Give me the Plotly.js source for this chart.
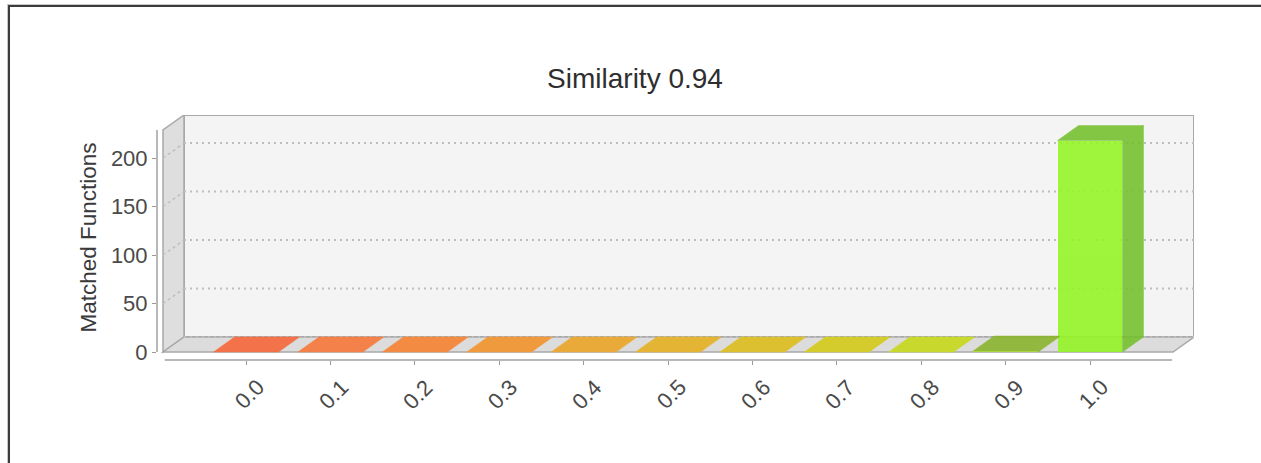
<!DOCTYPE html>
<html><head><meta charset="utf-8">
<script src="https://cdn.plot.ly/plotly-3.0.1.min.js"></script>
<style>
html,body{margin:0;padding:0;background:#fff;}
#wrap{position:relative;width:1261px;height:463px;overflow:hidden;}
#chart{position:absolute;left:0;top:0;width:1261px;height:463px;}
#frame{position:absolute;left:8px;top:5px;width:1300px;height:500px;border-top:2px solid #3c3c3c;border-left:2px solid #3c3c3c;box-shadow:-1px -1px 0 #c8c8c8;pointer-events:none;}
</style></head><body>
<div id="wrap"><div id="chart"></div><div id="frame"></div></div>
<script>
// ---- data ----
const categories = ['0.0','0.1','0.2','0.3','0.4','0.5','0.6','0.7','0.8','0.9','1.0'];
const matchedFunctions = [0,0,0,0,0,0,0,0,0,1,218];
const yTickValues = [0,50,100,150,200];
const chartTitle = 'Similarity 0.94';
const yTitle = 'Matched Functions';

// ---- styles ----
const frontColors = ['#f37249','#f4804a','#f38c42','#f09a3e','#eaaa3a','#e4b434','#dcc030','#d4cc2c','#c8d82c','#b4e636','#92f521'];
const topColors   = ['#f37249','#f4804a','#f38c42','#f09a3e','#eaaa3a','#e4b434','#dcc030','#d4cc2c','#c8d82c','#8ab42a','#74c02c'];
const sideColors  = ['#f37249','#f4804a','#f38c42','#f09a3e','#eaaa3a','#e4b434','#dcc030','#d4cc2c','#c8d82c','#8ab42a','#74c02c'];
const FONT = 'Liberation Sans, Arial, Helvetica, sans-serif';

// ---- geometry (pixels) ----
const W = 1261, H = 463;
const PL = 157, PR = 1194, PT = 115, PB = 360;      // plot area
const CAT0_PX = 246, PX_PER_CAT = 84.4;             // front plane category scale
const ZERO_PY = 352, PX_PER_UNIT = 0.97;            // front plane value scale
const DEPTH_X = 21, DEPTH_Y = 15;                   // 3D offset
const FRONT_L_PX = 163, FRONT_R_PX = 1173, FRONT_TOP_PY = 130;
const BAR_W = 0.77;

const xr0 = -(CAT0_PX - PL) / PX_PER_CAT;
const xr1 = xr0 + (PR - PL) / PX_PER_CAT;
const yr0 = -(PB - ZERO_PY) / PX_PER_UNIT;
const yr1 = (ZERO_PY - PT) / PX_PER_UNIT;
const ddx = DEPTH_X / PX_PER_CAT, ddy = DEPTH_Y / PX_PER_UNIT;
const fL = (FRONT_L_PX - CAT0_PX) / PX_PER_CAT;
const fR = (FRONT_R_PX - CAT0_PX) / PX_PER_CAT;
const fTop = (ZERO_PY - FRONT_TOP_PY) / PX_PER_UNIT;

const idx = categories.map((c, i) => i);

const shapes = [];
const wallLine = {color:'#a9a9a9', width:2};
// back wall
shapes.push({type:'rect', xref:'x', yref:'y', x0:fL+ddx, x1:fR+ddx, y0:ddy, y1:fTop+ddy, fillcolor:'#f4f4f4', line:wallLine, layer:'below'});
// left side wall
shapes.push({type:'path', xref:'x', yref:'y', path:`M${fL},0 L${fL},${fTop} L${fL+ddx},${fTop+ddy} L${fL+ddx},${ddy} Z`, fillcolor:'#dedede', line:{color:'#a9a9a9', width:1.5}, layer:'below'});
// floor
shapes.push({type:'path', xref:'x', yref:'y', path:`M${fL},0 L${fR},0 L${fR+ddx},${ddy} L${fL+ddx},${ddy} Z`, fillcolor:'#dcdcdc', line:{color:'#a9a9a9', width:1.5}, layer:'below'});
// gridlines
yTickValues.forEach(v => {
  shapes.push({type:'line', xref:'x', yref:'y', x0:fL+ddx, x1:fR+ddx, y0:v+ddy, y1:v+ddy, line:{color:'#bdbdbd', width:2, dash:'2px,4px'}, layer:'below'});
  if (v > 0) shapes.push({type:'line', xref:'x', yref:'y', x0:fL, x1:fL+ddx, y0:v, y1:v+ddy, line:{color:'#bdbdbd', width:1.5, dash:'3px,3px'}, layer:'below'});
});
// axis lines
shapes.push({type:'line', xref:'paper', yref:'y', x0:0, x1:0, y0:0, y1:fTop, line:{color:'#a0a0a0', width:1.5}});
shapes.push({type:'line', xref:'x', yref:'paper', x0:fL+0.02, x1:fR-0.01, y0:0, y1:0, line:{color:'#a0a0a0', width:1.5}});

const traces = [];
const ALPHA = 0.88;
// top and side faces
idx.forEach(i => {
  const v = matchedFunctions[i];
  const a = i - BAR_W/2, b = i + BAR_W/2;
  const op = v > 0 ? ALPHA : 1;
  if (v > 0) {
    traces.push({type:'scatter', mode:'lines', x:[b, b, b+ddx, b+ddx, b], y:[0, v, v+ddy, ddy, 0], fill:'toself', fillcolor:sideColors[i], line:{width:0.5, color:sideColors[i]}, opacity:op, hoverinfo:'skip', showlegend:false});
  }
  traces.push({type:'scatter', mode:'lines', x:[a, b, b+ddx, a+ddx, a], y:[v, v, v+ddy, v+ddy, v], fill:'toself', fillcolor:topColors[i], line:{width:0.5, color:topColors[i]}, opacity:op, hoverinfo:'skip', showlegend:false});
});
// front faces
traces.push({type:'bar', x:idx, y:matchedFunctions, width:BAR_W, marker:{color:frontColors, line:{width:0}}, opacity:ALPHA, hovertemplate:'%{text}: %{y}<extra></extra>', text:categories, textposition:'none', showlegend:false});

const annotations = idx.map(i => ({
  text: categories[i], x: i, xref:'x', y:(PB - 394) / (PB - PT), yref:'paper',
  showarrow:false, textangle:-45, xanchor:'center', yanchor:'middle', xshift:3,
  font:{family:FONT, size:22, color:'#4a4a4a'}
}));

const layout = {
  width:W, height:H,
  margin:{l:PL, r:W-PR, t:PT, b:H-PB, pad:0},
  paper_bgcolor:'rgba(0,0,0,0)', plot_bgcolor:'rgba(0,0,0,0)',
  font:{family:FONT, color:'#4a4a4a'},
  title:{text:chartTitle, font:{family:FONT, size:28, color:'#2e2e2e'}, xref:'container', x:635/W, xanchor:'center', yref:'container', y:1-78/H, yanchor:'middle'},
  xaxis:{range:[xr0, xr1], tickmode:'array', tickvals:idx, ticktext:categories, showticklabels:false, ticks:'outside', ticklen:4, tickcolor:'#9a9a9a', tickwidth:1, showgrid:false, zeroline:false, showline:false, fixedrange:true},
  yaxis:{range:[yr0, yr1], tickmode:'array', tickvals:yTickValues, ticks:'outside', ticklen:4, tickcolor:'#9a9a9a', tickwidth:1, tickfont:{family:FONT, size:22, color:'#4a4a4a'}, showgrid:false, zeroline:false, showline:false, fixedrange:true,
    title:{text:yTitle, font:{family:FONT, size:22.5, color:'#3a3a3a'}, standoff:8}},
  bargap:0, shapes:shapes, annotations:annotations
};
Plotly.newPlot('chart', traces, layout, {displayModeBar:false, staticPlot:true});
</script></body></html>
